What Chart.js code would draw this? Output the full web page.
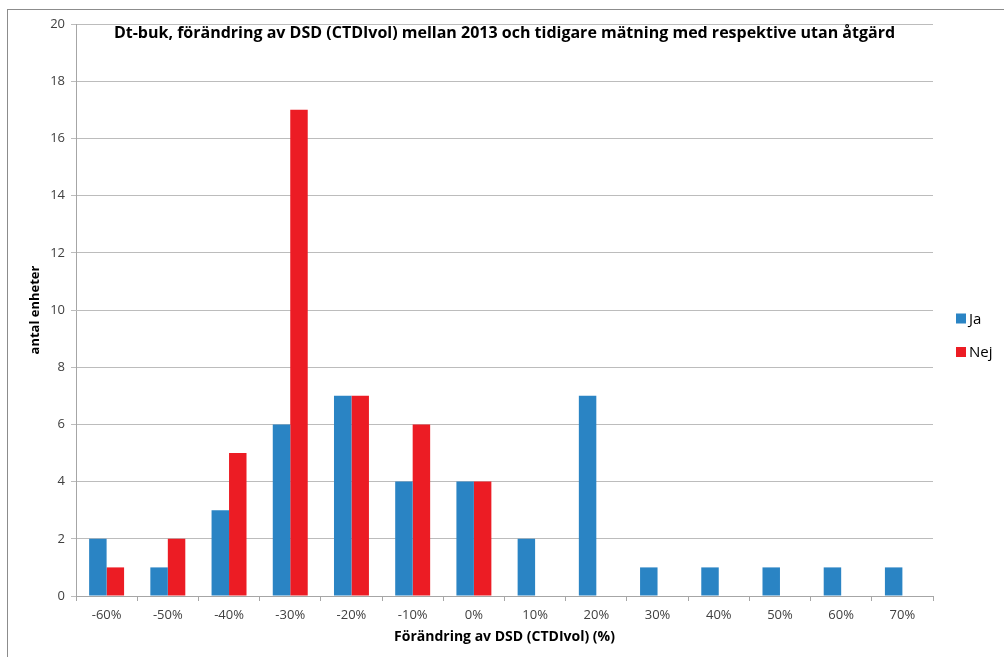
<!DOCTYPE html>
<html>
<head>
<meta charset="utf-8">
<script src="https://cdn.jsdelivr.net/npm/chart.js@4.4.0/dist/chart.umd.min.js"></script>
<style>
  html, body { margin: 0; padding: 0; background: #fff; }
  #frame { position: absolute; left: 7px; top: 9px; width: 1100px; height: 700px; border: 1px solid #8c8c8c; box-sizing: border-box; }
  #wrap { position: absolute; left: 0; top: 0; width: 1004px; height: 657px; }
</style>
</head>
<body>
<div id="frame"></div>
<div id="wrap"><canvas id="c" width="1004" height="657"></canvas></div>
<script>
// Change in DSD (CTDIvol) between 2013 and the earlier measurement
const categories = ['-60%', '-50%', '-40%', '-30%', '-20%', '-10%', '0%', '10%', '20%', '30%', '40%', '50%', '60%', '70%'];
const jaValues  = [2, 1, 3, 6, 7, 4, 4, 2, 7, 1, 1, 1, 1, 1];
const nejValues = [1, 2, 5, 17, 7, 6, 4, null, null, null, null, null, null, null];
const yTicks = [0, 2, 4, 6, 8, 10, 12, 14, 16, 18, 20];

const titleText = 'Dt-buk, förändring av DSD (CTDIvol) mellan 2013 och tidigare mätning med respektive utan åtgärd';
const FONT = '"Open Sans", "DejaVu Sans", sans-serif';

// Title sits inside the plot area, just below its top edge
const innerTitle = {
  id: 'innerTitle',
  afterDraw(chart) {
    const { ctx, chartArea } = chart;
    ctx.save();
    ctx.font = 'bold 16px ' + FONT;
    ctx.fillStyle = '#000';
    ctx.textAlign = 'center';
    ctx.textBaseline = 'middle';
    ctx.fillText(titleText, (chartArea.left + chartArea.right) / 2, chartArea.top + 9);
    ctx.restore();
  }
};

// Legend to the right of the plot, one entry per dataset
const sideLegend = {
  id: 'sideLegend',
  afterDraw(chart) {
    const { ctx, chartArea } = chart;
    const x = chartArea.right + 23;
    const y0 = 318.5;
    const step = 33.5;
    ctx.save();
    ctx.font = '15px ' + FONT;
    ctx.textAlign = 'left';
    ctx.textBaseline = 'middle';
    chart.data.datasets.forEach((ds, i) => {
      const y = y0 + i * step;
      ctx.fillStyle = ds.backgroundColor;
      ctx.fillRect(x, y - 5, 10, 10);
      ctx.fillStyle = '#000';
      ctx.fillText(ds.label, x + 13, y + 1);
    });
    ctx.restore();
  }
};

Chart.defaults.font.family = FONT;
Chart.defaults.color = '#404040';

new Chart(document.getElementById('c'), {
  type: 'bar',
  data: {
    labels: categories,
    datasets: [
      { label: 'Ja',  data: jaValues,  backgroundColor: '#2a84c4' },
      { label: 'Nej', data: nejValues, backgroundColor: '#ec1c24' }
    ]
  },
  options: {
    responsive: false,
    animation: false,
    layout: { padding: { top: 24, left: 0, right: 71, bottom: 0 } },
    datasets: { bar: { categoryPercentage: 0.571, barPercentage: 1.0 } },
    plugins: {
      title: { display: false },
      tooltip: { enabled: false },
      legend: { display: false }
    },
    scales: {
      x: {
        grid: { display: true, drawOnChartArea: false, offset: true, color: '#a6a6a6', tickLength: 5 },
        border: { color: '#a6a6a6' },
        ticks: { color: '#404040', font: { size: 13 }, padding: 6 },
        title: { display: true, text: 'Förändring av DSD (CTDIvol) (%)', color: '#000', font: { size: 14, weight: 'bold' }, padding: { top: 4, bottom: 12 } },
        afterFit(s) { s.height = 61; }
      },
      y: {
        min: 0, max: 20,
        afterBuildTicks(s) { s.ticks = yTicks.map(v => ({ value: v })); },
        grid: { color: '#bcbcbc', tickLength: 5 },
        border: { color: '#a6a6a6' },
        ticks: { color: '#404040', font: { size: 13 }, padding: 6 },
        title: { display: true, text: 'antal enheter', color: '#000', font: { size: 13, weight: 'bold' }, padding: { top: 27, bottom: 8 } },
        afterFit(s) { s.width = 76; }
      }
    }
  },
  plugins: [innerTitle, sideLegend]
});
</script>
</body>
</html>
